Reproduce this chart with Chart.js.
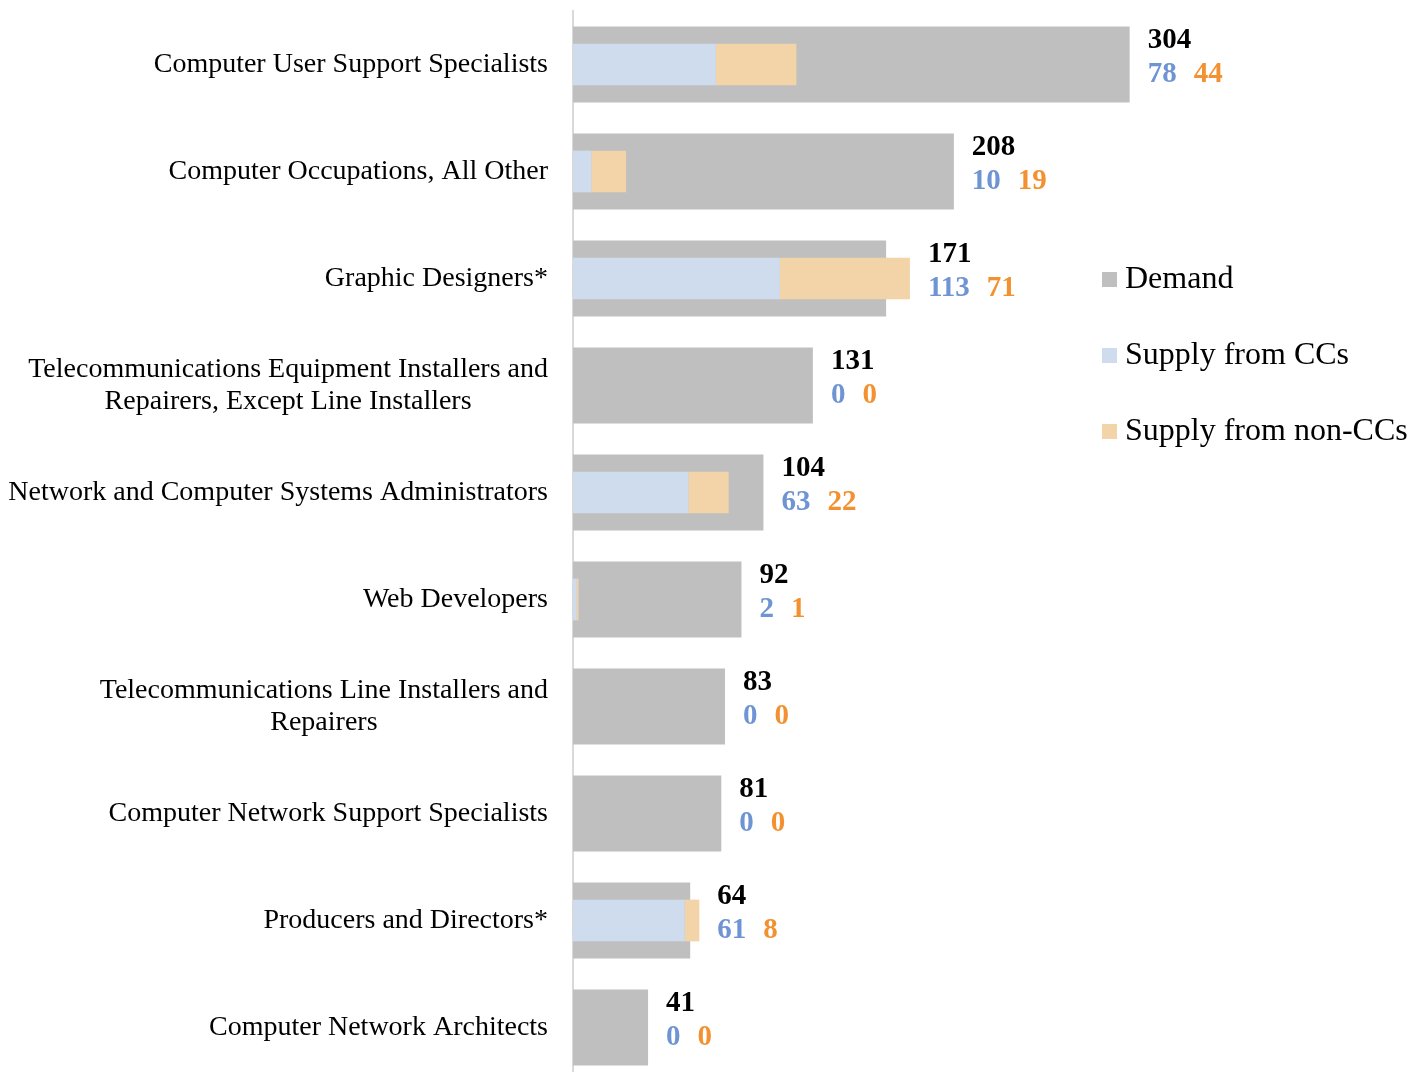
<!DOCTYPE html>
<html>
<head>
<meta charset="utf-8">
<script src="https://cdn.jsdelivr.net/npm/chart.js@4"></script>
<style>
    body { margin: 0; background: white; overflow: hidden; }
    #wrap { width: 1424px; height: 1072px; overflow: hidden; }
</style>
</head>
<body>
<div id="wrap"><canvas id="chartJobs" width="1424" height="1082"></canvas></div>
<script>
const categories = [
    ["Computer User Support Specialists"],
    ["Computer Occupations, All Other"],
    ["Graphic Designers*"],
    ["Telecommunications Equipment Installers and", "Repairers, Except Line Installers"],
    ["Network and Computer Systems Administrators"],
    ["Web Developers"],
    ["Telecommunications Line Installers and", "Repairers"],
    ["Computer Network Support Specialists"],
    ["Producers and Directors*"],
    ["Computer Network Architects"],
]
const demand = [304, 208, 171, 131, 104, 92, 83, 81, 64, 41]
const ccSupply = [78, 10, 113, 0, 63, 2, 0, 0, 61, 0]
const nonCcSupply = [44, 19, 71, 0, 22, 1, 0, 0, 8, 0]
const seriesNames = ["Demand", "Supply from CCs", "Supply from non-CCs"]

const colors = {
    demand: "#bfbfbf",
    cc: "#cfdcee",
    nonCc: "#f3d4a9",
    ccText: "#6f94d4",
    nonCcText: "#f39131",
}
const serif = '"Liberation Serif", "Times New Roman", serif'

// category names, right side value labels
let rowLabels = {
    id: "rowLabels",
    afterDatasetsDraw: (chart) => {
        const ctx = chart.ctx
        const x = chart.scales.x
        const y = chart.scales.y
        ctx.save()
        ctx.textBaseline = "middle"
        categories.forEach((lines, i) => {
            const yc = y.getPixelForValue(i)

            ctx.font = `28px ${serif}`
            ctx.fillStyle = "#000"
            ctx.textAlign = "center"
            let widest = Math.max(...lines.map(l => ctx.measureText(l).width))
            let cx = chart.chartArea.left - 25 - widest / 2
            lines.forEach((l, j) => {
                ctx.fillText(l, cx, yc + (j - (lines.length - 1) / 2) * 32)
            })

            let end = x.getPixelForValue(Math.max(demand[i], ccSupply[i] + nonCcSupply[i]))
            let left = end + 18
            ctx.textAlign = "left"
            ctx.font = `bold 29px ${serif}`
            ctx.fillStyle = "#000"
            ctx.fillText(String(demand[i]), left, yc - 24)

            ctx.fillStyle = colors.ccText
            ctx.fillText(String(ccSupply[i]), left, yc + 10)
            let w = ctx.measureText(String(ccSupply[i])).width
            ctx.fillStyle = colors.nonCcText
            ctx.fillText(String(nonCcSupply[i]), left + w + 17, yc + 10)
        })
        ctx.restore()
    }
}

// vertical legend on the right
let sideLegend = {
    id: "sideLegend",
    afterDraw: (chart) => {
        const ctx = chart.ctx
        const swatches = [colors.demand, colors.cc, colors.nonCc]
        ctx.save()
        ctx.font = `32px ${serif}`
        ctx.textBaseline = "middle"
        ctx.textAlign = "left"
        seriesNames.forEach((name, i) => {
            let yc = 280 + i * 76
            ctx.fillStyle = swatches[i]
            ctx.fillRect(1102, yc - 8, 15, 15)
            ctx.fillStyle = "#000"
            ctx.fillText(name, 1125, yc)
        })
        ctx.restore()
    }
}

window.addEventListener("load", () => {
    new Chart(document.getElementById("chartJobs"), {
        type: "bar",
        data: {
            labels: categories,
            datasets: [
                {
                    label: seriesNames[0],
                    data: demand,
                    backgroundColor: colors.demand,
                    stack: "demand",
                    order: 2,
                    barPercentage: 0.71,
                },
                {
                    label: seriesNames[1],
                    data: ccSupply,
                    backgroundColor: colors.cc,
                    stack: "supply",
                    order: 1,
                    barPercentage: 0.39,
                },
                {
                    label: seriesNames[2],
                    data: nonCcSupply,
                    backgroundColor: colors.nonCc,
                    stack: "supply",
                    order: 1,
                    barPercentage: 0.39,
                },
            ]
        },
        options: {
            indexAxis: "y",
            responsive: false,
            animation: false,
            grouped: false,
            categoryPercentage: 1,
            borderWidth: 0,
            layout: { padding: { top: 11, bottom: 1, left: 0, right: 27 } },
            scales: {
                x: {
                    display: false,
                    stacked: true,
                    min: 0,
                    max: 450,
                },
                y: {
                    grid: { display: false },
                    ticks: { display: false },
                    border: { display: true, color: "#d9d9d9", width: 2 },
                    afterFit: (scale) => { scale.width = 573 },
                }
            },
            plugins: {
                legend: { display: false },
                tooltip: { enabled: false },
            }
        },
        plugins: [rowLabels, sideLegend]
    })
})
</script>
</body>
</html>
